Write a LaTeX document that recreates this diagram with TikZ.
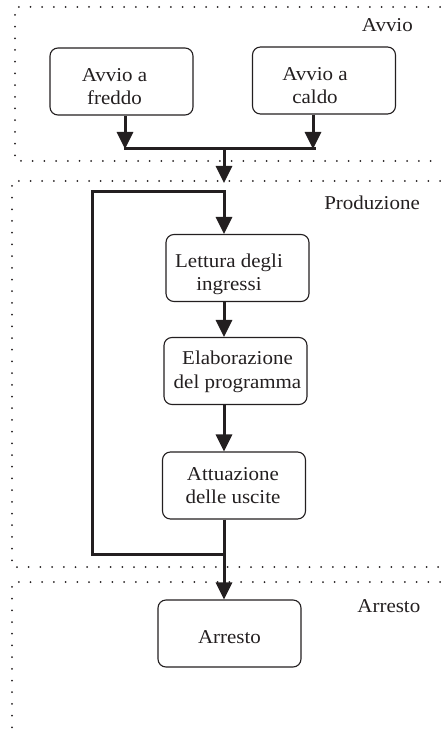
\documentclass[tikz,border=0pt]{standalone}
\usepackage{fontspec}
\setmainfont{Liberation Serif}[FakeStretch=1.07]
\usetikzlibrary{arrows.meta}
\definecolor{ink}{HTML}{231F20}
\begin{document}
\begin{tikzpicture}[x=1pt,y=-1pt,
  box/.style={draw=ink, line width=1.1pt, rounded corners=8pt,
    minimum width=143pt, minimum height=67pt, inner sep=0pt},
  txt/.style={text=ink, align=center, font=\fontsize{19.6}{23.3}\selectfont,
    inner sep=0pt, anchor=base},
  zlabel/.style={text=ink, font=\fontsize{19.6}{23.3}\selectfont,
    inner sep=0pt, anchor=base east},
  zone/.style={draw=ink, line width=2pt, line cap=round,
    dash pattern=on 0pt off 11.7pt},
  link/.style={draw=ink, line width=3pt, line join=miter},
  arr/.style={link, -{Triangle[length=17pt,width=16pt]}},
]
\useasboundingbox (0,0) rectangle (440,735);

% zones
\draw[zone] (440,7) -- (15,7) -- (15,161) -- (440,161);
\draw[zone] (440,181) -- (12,181) -- (12,567) -- (440,567);
\draw[zone] (440,582) -- (12,582) -- (12,735);

\node[zlabel] (zA) at (413,31.5) {Avvio};
\node[zlabel] (zP) at (420,210) {Produzione};
\node[zlabel] (zS) at (420.5,612) {Arresto};

% boxes (text placed by the baseline of its last line)
\node[box] (freddo) at (121.5,81.5) {};
\node[txt] (freddoT) at (114.5,105) {Avvio a\\freddo};
\node[box] (caldo) at (324,80.5) {};
\node[txt] (caldoT) at (315,104) {Avvio a\\caldo};
\node[box] (lett) at (237.5,268) {};
\node[txt] (lettT) at (229,290.5) {Lettura degli\\ingressi};
\node[box] (elab) at (235.5,371) {};
\node[txt] (elabT) at (237.5,388) {Elaborazione\\del programma};
\node[box] (att) at (234,485.5) {};
\node[txt] (attT) at (233,503.5) {Attuazione\\delle uscite};
\node[box] (stop) at (229.5,633.5) {};
\node[txt] (stopT) at (229.5,643) {Arresto};

% junction points
\coordinate (fx) at (125,149);
\coordinate (cx) at (313,149);
\coordinate (barL) at (123.5,149);
\coordinate (barR) at (316,149);
\coordinate (barM) at (224,149);
\coordinate (prodIn) at (224,183);
\coordinate (loopTL) at (92,192);
\coordinate (loopB) at (224,554);

% connectors
\draw[arr] (freddo.south -| fx) -- (fx);
\draw[arr] (caldo.south -| cx) -- (cx);
\draw[link] (barL) -- (barR);
\draw[arr] (barM) -- (prodIn);
\draw[arr] (att.south -| loopB) -- (loopB) -| (loopTL) -| (lett.north -| loopB);
\draw[arr] (lett.south -| loopB) -- (elab.north -| loopB);
\draw[arr] (elab.south -| loopB) -- (att.north -| loopB);
\draw[arr] (loopB) -- (stop.north -| loopB);
\end{tikzpicture}
\end{document}
